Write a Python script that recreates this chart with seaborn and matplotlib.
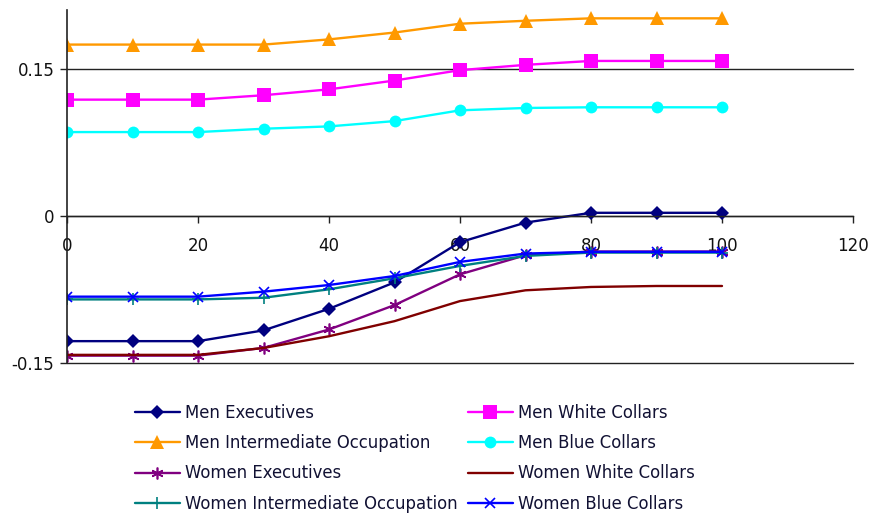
import matplotlib
matplotlib.use("Agg")
import matplotlib.pyplot as plt
import seaborn as sns
import pandas as pd

# ---- data ----
x_values = [0, 10, 20, 30, 40, 50, 60, 70, 80, 90, 100]
men_executives = [-0.128, -0.128, -0.128, -0.117, -0.095, -0.068, -0.027, -0.007, 0.003, 0.003, 0.003]
men_white_collars = [0.1185, 0.1185, 0.1185, 0.123, 0.129, 0.138, 0.1486, 0.154, 0.158, 0.158, 0.158]
men_intermediate = [0.1747, 0.1747, 0.1747, 0.1747, 0.180, 0.187, 0.196, 0.199, 0.2015, 0.2015, 0.2015]
men_blue_collars = [0.0854, 0.0854, 0.0854, 0.0888, 0.0912, 0.0966, 0.1076, 0.110, 0.1107, 0.1107, 0.1107]
women_executives = [-0.1428, -0.1428, -0.1428, -0.1349, -0.1161, -0.0912, -0.0598, -0.0403, -0.0365, -0.0365, -0.0365]
women_white_collars = [-0.142, -0.142, -0.142, -0.135, -0.123, -0.1076, -0.0871, -0.0761, -0.0727, -0.0717, -0.0717]
women_intermediate = [-0.0854, -0.0854, -0.0854, -0.0837, -0.0751, -0.0638, -0.0512, -0.041, -0.0376, -0.0376, -0.0376]
women_blue_collars = [-0.0826, -0.0826, -0.0826, -0.0775, -0.0707, -0.0615, -0.0471, -0.0386, -0.0369, -0.0369, -0.0369]

series_names = ["Men Executives", "Men White Collars", "Men Intermediate Occupation",
                "Men Blue Collars", "Women Executives", "Women White Collars",
                "Women Intermediate Occupation", "Women Blue Collars"]
series_values = [men_executives, men_white_collars, men_intermediate, men_blue_collars,
                 women_executives, women_white_collars, women_intermediate, women_blue_collars]
x_ticks = [0, 20, 40, 60, 80, 100, 120]
y_ticks = [-0.15, 0, 0.15]
y_tick_labels = ["-0.15", "0", "0.15"]

# ---- styles ----
styles = {
    "Men Executives": dict(color="#000080", marker="D", ms=7.5, mew=0),
    "Men White Collars": dict(color="#FF00FF", marker="s", ms=9.5, mew=0),
    "Men Intermediate Occupation": dict(color="#FF9900", marker="^", ms=10, mew=0),
    "Men Blue Collars": dict(color="#00FFFF", marker="o", ms=8.5, mew=0),
    "Women Executives": dict(color="#800080", marker=(6, 2, 0), ms=8.5, mew=1.2),
    "Women White Collars": dict(color="#800000", marker=None, ms=0, mew=0),
    "Women Intermediate Occupation": dict(color="#008080", marker="+", ms=8, mew=1.2),
    "Women Blue Collars": dict(color="#0000FF", marker="x", ms=7.5, mew=1.2),
}

sns.set_theme(style="white")
plt.rcParams['font.family'] = ['DejaVu Sans']

fig = plt.figure(figsize=(8.74, 5.18), dpi=100)
ax = fig.add_axes([67 / 874, 1 - 362.7 / 518, (853 - 67) / 874, (362.7 - 10) / 518])

handles = {}
for name, vals in zip(series_names, series_values):
    df = pd.DataFrame({"x": x_values, "y": vals})
    st = styles[name]
    kw = dict(color=st["color"], linewidth=1.7, label=name)
    if st["marker"] is not None:
        kw.update(marker=st["marker"], markersize=st["ms"], markeredgewidth=st["mew"],
                  markeredgecolor=st["color"], markerfacecolor=st["color"])
    sns.lineplot(data=df, x="x", y="y", ax=ax, legend=False, **kw)
    handles[name] = ax.lines[-1]

ax.set_xlim(0, 120)
ax.set_ylim(-0.15, 0.21)
ax.set_xticks(x_ticks)
ax.set_xticklabels([str(t) for t in x_ticks])
ax.set_yticks(y_ticks)
ax.set_yticklabels(y_tick_labels)
ax.set_xlabel("")
ax.set_ylabel("")

for s in ["top", "right"]:
    ax.spines[s].set_visible(False)
ax.spines["bottom"].set_position(("data", 0))
ax.spines["bottom"].set_color("#222222")
ax.spines["bottom"].set_linewidth(1.0)
ax.spines["left"].set_color("#222222")
ax.spines["left"].set_linewidth(1.2)

for yv in y_ticks:
    ax.axhline(yv, color="#222222", linewidth=1.0, zorder=0.5, clip_on=False)

ax.tick_params(axis="x", direction="out", length=5, width=1, color="#222222",
               bottom=True, pad=10, labelsize=12, labelcolor="#111111")
ax.tick_params(axis="y", direction="out", length=5, width=1, color="#222222",
               left=True, pad=4, labelsize=12, labelcolor="#111111")
ax.grid(False)

col1 = ["Men Executives", "Men Intermediate Occupation", "Women Executives", "Women Intermediate Occupation"]
col2 = ["Men White Collars", "Men Blue Collars", "Women White Collars", "Women Blue Collars"]
for col, xpos in [(col1, 135), (col2, 468)]:
    fig.legend([handles[n] for n in col], col, loc="upper left",
               bbox_to_anchor=(xpos / 874, 1 - 404 / 518), frameon=False,
               fontsize=11.9, handlelength=2.7, handletextpad=0.3,
               labelspacing=0.74, borderpad=0, borderaxespad=0, labelcolor="#111133")

fig.savefig("out.png", dpi=100)
